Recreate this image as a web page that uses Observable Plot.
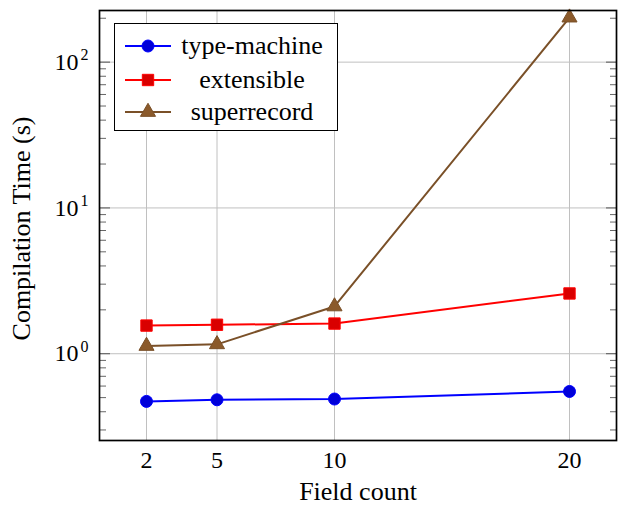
<!DOCTYPE html>
<html>
<head>
<meta charset="utf-8">
<script src="https://cdn.jsdelivr.net/npm/d3@7"></script>
<script src="https://cdn.jsdelivr.net/npm/@observablehq/plot@0.6"></script>
<style>
  html, body { margin: 0; padding: 0; background: #fff; }
  #chart { position: relative; width: 618px; height: 505px; }
  #legend { position: absolute; left: 114px; top: 23px; width: 222px; height: 106px;
    border: 1.5px solid #000; background: #fff; }
  .row { position: absolute; left: 0; width: 222px; height: 30px; }
  .row svg { position: absolute; left: 8px; top: 0; }
  .row span { position: absolute; left: 62px; width: 150px; text-align: center; top: 0; line-height: 30px;
    font-family: 'Liberation Serif', serif; font-size: 26px; color: #000; white-space: nowrap; }
</style>
</head>
<body>
<div id="chart"></div>
<script>
const fieldCounts = [2, 5, 10, 20];
const seriesNames = ["type-machine", "extensible", "superrecord"];
const typeMachine = [0.471, 0.483, 0.489, 0.551];
const extensible = [1.56, 1.58, 1.61, 2.59];
const superrecord = [1.13, 1.16, 2.11, 202];
const yMajor = [1, 10, 100];
const yExponents = ["0", "1", "2"];
const yMinor = [0.3,0.4,0.5,0.6,0.7,0.8,0.9, 2,3,4,5,6,7,8,9, 20,30,40,50,60,70,80,90, 200];
const xLabel = "Field count";
const yLabel = "Compilation Time (s)";

const colors = ["#0000ff", "#ff0000", "#7a5028"];
const fills = ["#0000d9", "#d90000", "#8b5a2b"];
const symbols = ["circle", "square", "triangle"];
const radii = [6, 6.4, 5.6];
const values = [typeMachine, extensible, superrecord];

const data = [];
seriesNames.forEach((s, i) => fieldCounts.forEach((x, j) => data.push({series: s, si: i, x, y: values[i][j]})));

const font = "Liberation Serif";
const marks = [
  Plot.gridX(fieldCounts, {stroke: "#c0c0c0", strokeOpacity: 1, strokeWidth: 1}),
  Plot.gridY(yMajor, {stroke: "#c0c0c0", strokeOpacity: 1, strokeWidth: 1}),
  Plot.axisY({anchor: "left", ticks: yMinor, tickSize: -7, text: null, label: null, stroke: "#666"}),
  Plot.axisY({anchor: "right", ticks: yMinor, tickSize: -7, text: null, label: null, stroke: "#666"}),
  Plot.axisY({anchor: "left", ticks: yMajor, tickSize: -11, text: null, label: null, stroke: "#555"}),
  Plot.axisY({anchor: "right", ticks: yMajor, tickSize: -11, text: null, label: null, stroke: "#555"}),
  Plot.axisY({anchor: "left", ticks: yMajor, tickSize: 0, tickPadding: 21, tickFormat: () => "10", fontSize: 24, fontFamily: font, fill: "#000", label: null}),
  Plot.text(yMajor, {y: d => d, frameAnchor: "left", dx: -19, dy: -7, text: (d, i) => yExponents[i], textAnchor: "start", fontSize: 16, fontFamily: font, fill: "#000"}),
  Plot.axisX({anchor: "bottom", ticks: fieldCounts, tickSize: 0, tickPadding: 10, fontSize: 24, fontFamily: font, fill: "#000", label: null}),
  Plot.text([xLabel], {frameAnchor: "bottom", dy: 59, textAnchor: "middle", text: d => d, fontSize: 26, fontFamily: font, fill: "#000"}),
  Plot.text([yLabel], {frameAnchor: "left", dx: -78, dy: 3, rotate: -90, textAnchor: "middle", text: d => d, fontSize: 26, fontFamily: font, fill: "#000"}),
];
seriesNames.forEach((s, i) => {
  const d = data.filter(e => e.si === i);
  marks.push(Plot.line(d, {x: "x", y: "y", stroke: colors[i], strokeWidth: 2}));
});
seriesNames.forEach((s, i) => {
  const d = data.filter(e => e.si === i);
  marks.push(Plot.dot(d, {x: "x", y: "y", symbol: symbols[i], r: radii[i], fill: fills[i], stroke: colors[i], strokeWidth: 1}));
});
marks.push(Plot.frame({stroke: "#000", strokeWidth: 1.7}));

const chart = Plot.plot({
  width: 618, height: 505,
  marginLeft: 99, marginRight: 2, marginTop: 10, marginBottom: 65,
  x: {type: "linear", domain: [0, 22], axis: null},
  y: {type: "log", domain: [0.254, 226], axis: null},
  style: {background: "#fff", fontFamily: font},
  marks
});
const root = document.getElementById("chart");
root.appendChild(chart);

// legend
const legend = document.createElement("div");
legend.id = "legend";
const rowTops = [7, 41, 73];
seriesNames.forEach((s, i) => {
  const row = document.createElement("div");
  row.className = "row";
  row.style.top = rowTops[i] + "px";
  const svg = d3.create("svg").attr("width", 50).attr("height", 30);
  svg.append("line").attr("x1", 2).attr("x2", 48).attr("y1", 15).attr("y2", 15)
    .attr("stroke", colors[i]).attr("stroke-width", 2);
  const sym = {circle: d3.symbolCircle, square: d3.symbolSquare, triangle: d3.symbolTriangle}[symbols[i]];
  svg.append("path").attr("transform", "translate(25,15)")
    .attr("d", d3.symbol(sym, radii[i] * radii[i] * Math.PI)())
    .attr("fill", fills[i]).attr("stroke", colors[i]).attr("stroke-width", 1);
  row.appendChild(svg.node());
  const span = document.createElement("span");
  span.textContent = s;
  row.appendChild(span);
  legend.appendChild(row);
});
root.appendChild(legend);
</script>
</body>
</html>
